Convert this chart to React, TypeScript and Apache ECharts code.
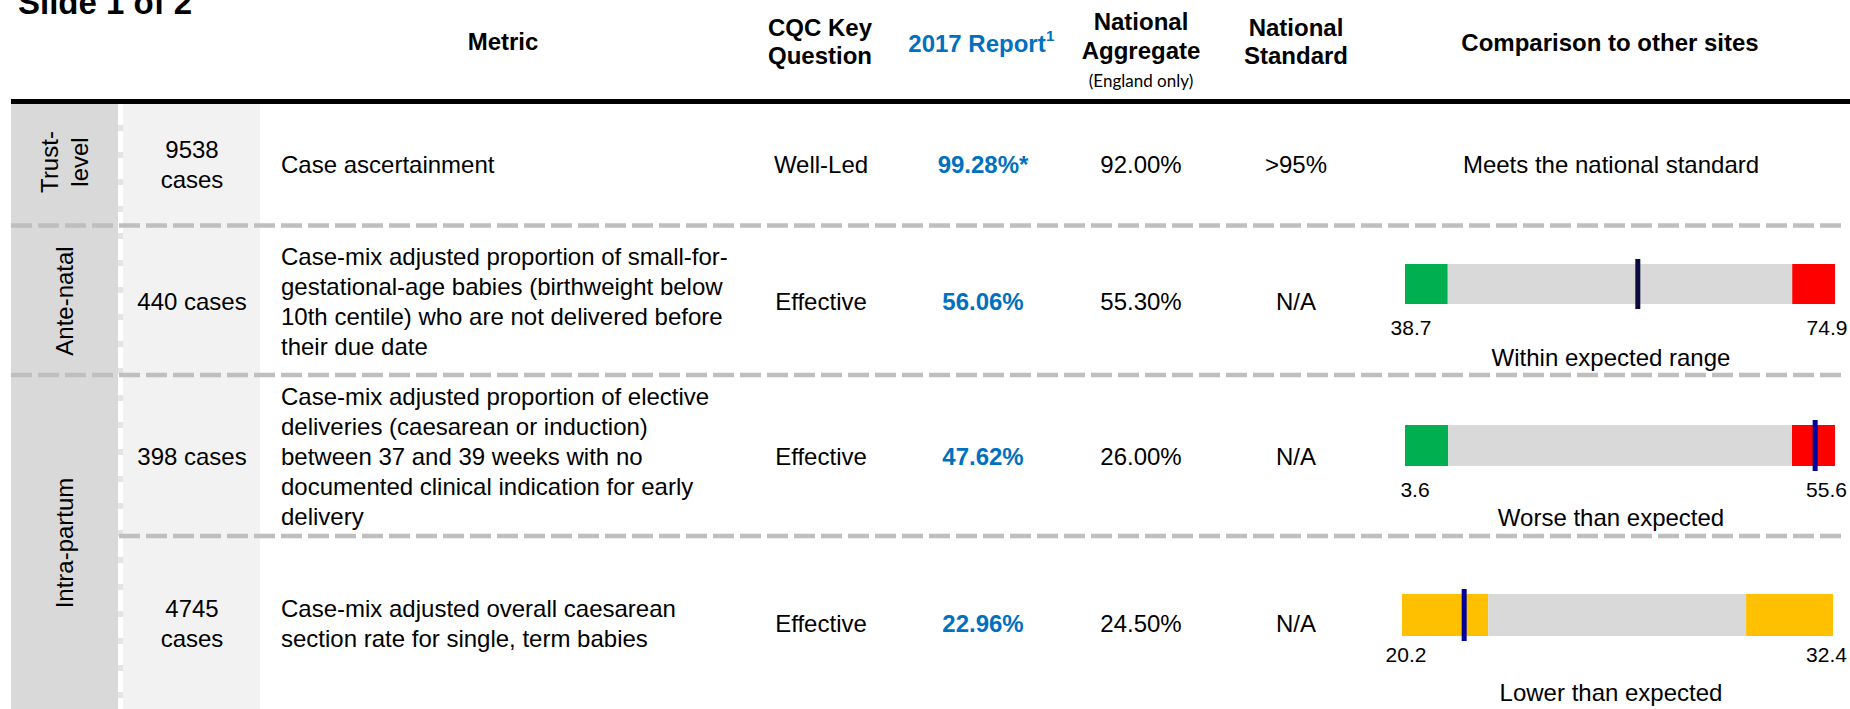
import React, { useEffect, useRef } from 'react';
import * as echarts from 'echarts';

const FONT = "'Liberation Sans', Arial, Helvetica, sans-serif";
const NOTE_FONT = "Lato, 'Open Sans', sans-serif";

// ---------- data ----------
const title = 'Slide 1 of 2';
const headerLabels = ['Metric', 'CQC Key\nQuestion', '2017 Report', 'National\nAggregate', 'National\nStandard', 'Comparison to other sites'];
const headerNote = '(England only)';
const reportSup = '1';
const sections = ['Trust-\nlevel', 'Ante-natal', 'Intra-partum'];
const caseCounts = ['9538\ncases', '440 cases', '398 cases', '4745\ncases'];
const metrics = [
  'Case ascertainment',
  'Case-mix adjusted proportion of small-for-\ngestational-age babies (birthweight below\n10th centile) who are not delivered before\ntheir due date',
  'Case-mix adjusted proportion of elective\ndeliveries (caesarean or induction)\nbetween 37 and 39 weeks with no\ndocumented clinical indication for early\ndelivery',
  'Case-mix adjusted overall caesarean\nsection rate for single, term babies',
];
const cqcQuestions = ['Well-Led', 'Effective', 'Effective', 'Effective'];
const report2017 = ['99.28%*', '56.06%', '47.62%', '22.96%'];
const nationalAggregate = ['92.00%', '55.30%', '26.00%', '24.50%'];
const nationalStandard = ['>95%', 'N/A', 'N/A', 'N/A'];
const comparisonStatus = ['Meets the national standard', 'Within expected range', 'Worse than expected', 'Lower than expected'];

// comparison bars (rows 2-4)
const compCategories = ['SGA not delivered before due date', 'Elective deliveries 37-39 weeks', 'Overall caesarean section rate'];
const compMin = [38.7, 3.6, 20.2];
const compMax = [74.9, 55.6, 32.4];
const compLowBandEnd = [42.3, 8.8, 22.64];
const compHighBandStart = [71.3, 50.4, 29.94];
const compMarker = [58.3, 53.2, 21.96];
const compMinLabel = ['38.7', '3.6', '20.2'];
const compMaxLabel = ['74.9', '55.6', '32.4'];

// ---------- styles / layout ----------
const lowBandColor = ['#00B050', '#00B050', '#FFC000'];
const highBandColor = ['#FF0000', '#FF0000', '#FFC000'];
const midBandColor = '#D9D9D9';
const markerColor = ['#0B0B3D', '#00009A', '#00009A'];
const BLUE = '#0070C0';

const rowY = [164, 301, 456, 623];
const sectionY = [162, 301, 543];
const statusY = [164, 357, 517, 692];
const compLayout = [
  { left: 1405, top: 259, width: 430, height: 50, barWidth: 40, margin: 8, lp: 12, rp: 16 },
  { left: 1405, top: 420, width: 430, height: 51, barWidth: 41, margin: 8, lp: 20, rp: 17 },
  { left: 1402, top: 589, width: 431, height: 52, barWidth: 42, margin: 3, lp: 8, rp: 13 },
];

function txt(x: number, y: number, text: string, extra: any = {}, rotation = 0) {
  return {
    type: 'text',
    x,
    y,
    rotation,
    silent: true,
    style: {
      text,
      fill: '#000',
      fontSize: 24,
      fontFamily: FONT,
      fontWeight: 'normal',
      align: 'center',
      verticalAlign: 'middle',
      lineHeight: 30,
      ...extra,
    },
  };
}

function buildOption() {
  const g: any[] = [];
  // column backgrounds
  g.push({ type: 'rect', silent: true, shape: { x: 11, y: 104, width: 107, height: 605 }, style: { fill: '#D9D9D9' } });
  g.push({ type: 'rect', silent: true, shape: { x: 118, y: 104, width: 5, height: 605 }, style: { fill: '#E4E4E4' } });
  g.push({ type: 'line', silent: true, shape: { x1: 120.5, y1: 104, x2: 120.5, y2: 709 }, style: { stroke: '#FFFFFF', lineWidth: 5, lineDash: [21, 6] } });
  g.push({ type: 'rect', silent: true, shape: { x: 123, y: 104, width: 137, height: 605 }, style: { fill: '#F2F2F2' } });
  // header rule
  g.push({ type: 'rect', silent: true, shape: { x: 11, y: 99, width: 1839, height: 5 }, style: { fill: '#000' } });
  // row separators
  const dash = { stroke: '#BFBFBF', lineWidth: 4.5, lineDash: [21, 6] };
  g.push({ type: 'line', silent: true, shape: { x1: 11, y1: 225.5, x2: 1842, y2: 225.5 }, style: dash });
  g.push({ type: 'line', silent: true, shape: { x1: 11, y1: 375, x2: 1842, y2: 375 }, style: dash });
  g.push({ type: 'line', silent: true, shape: { x1: 119, y1: 536, x2: 1842, y2: 536 }, style: dash });

  // title
  g.push(txt(18, 2, title, { fontSize: 33, fontWeight: 'bold', align: 'left' }));

  // headers
  const hb = { fontWeight: 'bold', lineHeight: 28 };
  g.push(txt(503, 41, headerLabels[0], hb));
  g.push(txt(820, 41, headerLabels[1], hb));
  g.push(txt(977, 43, headerLabels[2], { ...hb, fill: BLUE }));
  g.push(txt(1046, 35, reportSup, { fontWeight: 'bold', fill: BLUE, fontSize: 15, align: 'left' }));
  g.push(txt(1141, 36, headerLabels[3], { fontWeight: 'bold', lineHeight: 29 }));
  g.push(txt(1141, 80, headerNote, { fontFamily: NOTE_FONT, fontSize: 17 }));
  g.push(txt(1296, 41, headerLabels[4], hb));
  g.push(txt(1610, 42, headerLabels[5], hb));

  // section labels (rotated)
  sections.forEach((s, i) => {
    g.push(txt(64.5, sectionY[i], s, {}, Math.PI / 2));
  });

  // rows
  for (let i = 0; i < 4; i++) {
    const y = rowY[i];
    g.push(txt(192, y, caseCounts[i]));
    g.push(txt(281, y, metrics[i], { align: 'left' }));
    g.push(txt(821, y, cqcQuestions[i]));
    g.push(txt(983, y, report2017[i], { fontWeight: 'bold', fill: BLUE }));
    g.push(txt(1141, y, nationalAggregate[i]));
    g.push(txt(1296, y, nationalStandard[i]));
    g.push(txt(1611, statusY[i], comparisonStatus[i]));
  }

  const grid: any[] = [];
  const xAxis: any[] = [];
  const yAxis: any[] = [];
  const series: any[] = [];

  compCategories.forEach((cat, i) => {
    const L = compLayout[i];
    grid.push({ left: L.left, top: L.top, width: L.width, height: L.height, containLabel: false, outerBoundsMode: 'none' });
    const mn = compMin[i];
    const mx = compMax[i];
    xAxis.push({
      gridIndex: i,
      type: 'value',
      min: mn,
      max: mx,
      axisLine: { show: false },
      axisTick: { show: false },
      splitLine: { show: false },
      axisLabel: {
        show: true,
        customValues: [mn, mx],
        margin: L.margin,
        hideOverlap: false,
        showMinLabel: true,
        showMaxLabel: true,
        formatter: (v: number) => (v === mn ? `{lo|${compMinLabel[i]}}` : `{hi|${compMaxLabel[i]}}`),
        rich: {
          lo: { fontSize: 21, fontFamily: FONT, color: '#000', padding: [0, 0, 0, L.lp] },
          hi: { fontSize: 21, fontFamily: FONT, color: '#000', padding: [0, L.rp, 0, 0] },
        },
      },
    });
    yAxis.push({ gridIndex: i, type: 'category', data: [cat], show: false });
    const common = { type: 'bar', xAxisIndex: i, yAxisIndex: i, stack: 'comp' + i, barWidth: L.barWidth, silent: true, clip: true };
    series.push({ ...common, name: 'base' + i, data: [mn], itemStyle: { color: 'rgba(0,0,0,0)' } });
    series.push({ ...common, name: 'low' + i, data: [compLowBandEnd[i] - mn], itemStyle: { color: lowBandColor[i] } });
    series.push({ ...common, name: 'mid' + i, data: [compHighBandStart[i] - compLowBandEnd[i]], itemStyle: { color: midBandColor } });
    series.push({ ...common, name: 'high' + i, data: [mx - compHighBandStart[i]], itemStyle: { color: highBandColor[i] } });
    series.push({
      type: 'scatter',
      name: 'marker' + i,
      xAxisIndex: i,
      yAxisIndex: i,
      symbol: 'rect',
      symbolSize: [5, L.height],
      silent: true,
      z: 5,
      data: [[compMarker[i], cat]],
      itemStyle: { color: markerColor[i], opacity: 1 },
    });
  });

  return {
    animation: false,
    backgroundColor: '#FFFFFF',
    textStyle: { fontFamily: FONT },
    tooltip: { show: false },
    grid,
    xAxis,
    yAxis,
    series,
    graphic: { elements: g },
  };
}

export default function App() {
  const ref = useRef<HTMLDivElement>(null);
  useEffect(() => {
    if (!ref.current) return;
    const chart = echarts.init(ref.current, undefined, { renderer: 'svg' });
    chart.setOption(buildOption() as any);
    return () => chart.dispose();
  }, []);
  return (
    <div
      ref={ref}
      style={{ position: 'absolute', left: 0, top: 0, width: 1850, height: 709, background: '#fff' }}
    />
  );
}
